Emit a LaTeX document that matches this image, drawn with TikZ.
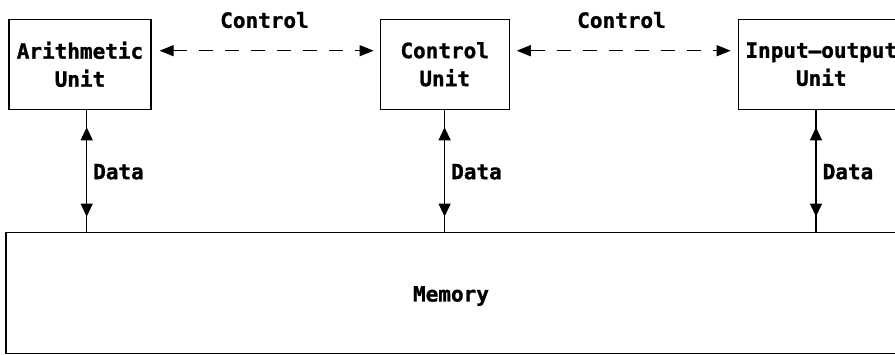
\documentclass[tikz,border=0pt]{standalone}
\usepackage{fontspec}
\newfontfamily\diagfont[FakeBold=1.2]{DejaVu Sans Mono}
\usetikzlibrary{arrows.meta}
\begin{document}
\begin{tikzpicture}[x=1pt,y=-1pt,
  every node/.style={font=\diagfont\bfseries\fontsize{21}{28}\selectfont, inner sep=0pt},
  box/.style={draw, line width=1.2pt, align=center},
  link/.style={line width=1.2pt},
  dataarrow/.style={line width=1.2pt, {Triangle[length=13pt,width=12pt]}-{Triangle[length=13pt,width=12pt]}},
  ctrlarrow/.style={line width=1.2pt, dash pattern=on 14pt off 12pt, {Triangle[length=14pt,width=11pt]}-{Triangle[length=14pt,width=11pt]}}
]
\clip (0,0) rectangle (895,354);
\fill[white] (0,0) rectangle (895,354);
% boxes
\node[box, minimum width=142pt, minimum height=90pt] (au) at (80,64.3) {Arithmetic\\Unit};
\node[box, minimum width=129pt, minimum height=90pt] (cu) at (444.7,64.3) {Control\\Unit};
\node[box, minimum width=166pt, minimum height=90pt, text width=166pt] (io) at (821.3,64.3) {Input—output\\Unit};
\node[box, minimum width=898pt, minimum height=121pt] (mem) at (455,292.7) {};
\node (memlbl) at (451,296) {Memory};
% coordinates
\coordinate (cy) at (0,50.7);
\coordinate (d1) at (86.7,0);
\coordinate (d2) at (444.6,0);
\coordinate (d3) at (816,0);
% control arrows
\draw[ctrlarrow, shorten <=8pt, shorten >=6pt] (au.east |- cy) -- (cu.west |- cy);
\draw[ctrlarrow, shorten <=7pt, shorten >=7pt] (cu.east |- cy) -- (io.west |- cy);
\node (c1) at (264.5,20) {Control};
\node (c2) at (621.5,20) {Control};
% data links
\draw[link] (au.south -| d1) -- (mem.north -| d1);
\draw[link] (cu.south -| d2) -- (mem.north -| d2);
\draw[link] (io.south -| d3) -- (mem.north -| d3);
\draw[dataarrow, shorten <=17.4pt, shorten >=15pt] (au.south -| d1) -- (mem.north -| d1);
\draw[dataarrow, shorten <=17.4pt, shorten >=15pt] (cu.south -| d2) -- (mem.north -| d2);
\draw[dataarrow, shorten <=17.4pt, shorten >=15pt] (io.south -| d3) -- (mem.north -| d3);
\node[anchor=west] (l1) at (93,171.7) {Data};
\node[anchor=west] (l2) at (451,171.7) {Data};
\node[anchor=west] (l3) at (822.5,171.7) {Data};
\end{tikzpicture}
\end{document}
